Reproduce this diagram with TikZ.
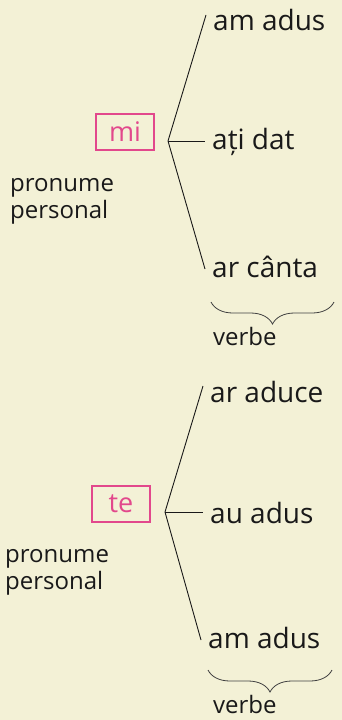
\documentclass[tikz,border=0pt]{standalone}
\usepackage{fontspec}
\setmainfont{Open Sans}
\usetikzlibrary{positioning}
\usetikzlibrary{decorations.pathreplacing}
\definecolor{paper}{RGB}{243,241,214}
\definecolor{pinkbox}{RGB}{226,72,140}
\definecolor{ink}{RGB}{25,25,25}

\begin{document}
\begin{tikzpicture}[x=1pt,y=-1pt]
\tikzstyle{pron}=[rectangle,draw=pinkbox,text=pinkbox,line width=1.8pt,
minimum width=58pt,minimum height=36pt,inner sep=0pt,font=\fontsize{27}{30}\selectfont]
\tikzstyle{verb}=[anchor=base west,inner xsep=7pt,inner ysep=0pt,text=ink,
text height=18pt,text depth=2pt,font=\fontsize{28}{32}\selectfont]
\tikzstyle{note}=[align=left,anchor=west,inner sep=0pt,text=ink,font=\fontsize{24}{27}\selectfont]
\tikzstyle{bracket}=[decorate,decoration={brace,mirror,amplitude=22pt},draw=black!75,line width=0.8pt]
\fill[paper] (0,0) rectangle (342,720);
\useasboundingbox (0,0) rectangle (342,720);
\node[pron] (mi) at (125,132) {mi};
\coordinate (fork1) at (168,141);
\node[verb] (amadus1) at (206,30) {am adus};
\node[verb] (atidat) at (205,149) {ați dat};
\node[verb] (arcanta) at (205,277) {ar cânta};
\node[note] (pron1) at (10,201) {pronume\\personal};
\draw[ink,line width=0.9pt] (fork1) -- ([yshift=7pt]amadus1.west);
\draw[ink,line width=0.9pt] (fork1) -- (fork1 -| atidat.west);
\draw[ink,line width=0.9pt] (fork1) -- (arcanta.west);
\draw[bracket] (211,302) -- (334,302);
\node[anchor=base west,inner sep=0pt,text=ink,font=\fontsize{24}{27}\selectfont] (verbe1) at (213,345) {verbe};
\node[pron] (te) at (121,504) {te};
\coordinate (fork2) at (165,512);
\node[verb] (araduce) at (203,402) {ar aduce};
\node[verb] (auadus) at (203,523) {au adus};
\node[verb] (amadus2) at (201,648) {am adus};
\node[note] (pron2) at (5,572) {pronume\\personal};
\draw[ink,line width=0.9pt] (fork2) -- ([yshift=8pt]araduce.west);
\draw[ink,line width=0.9pt] (fork2) -- (fork2 -| auadus.west);
\draw[ink,line width=0.9pt] (fork2) -- (amadus2.west);
\draw[bracket] (208,670) -- (332,670);
\node[anchor=base west,inner sep=0pt,text=ink,font=\fontsize{24}{27}\selectfont] (verbe2) at (213,713) {verbe};
\end{tikzpicture}
\end{document}
